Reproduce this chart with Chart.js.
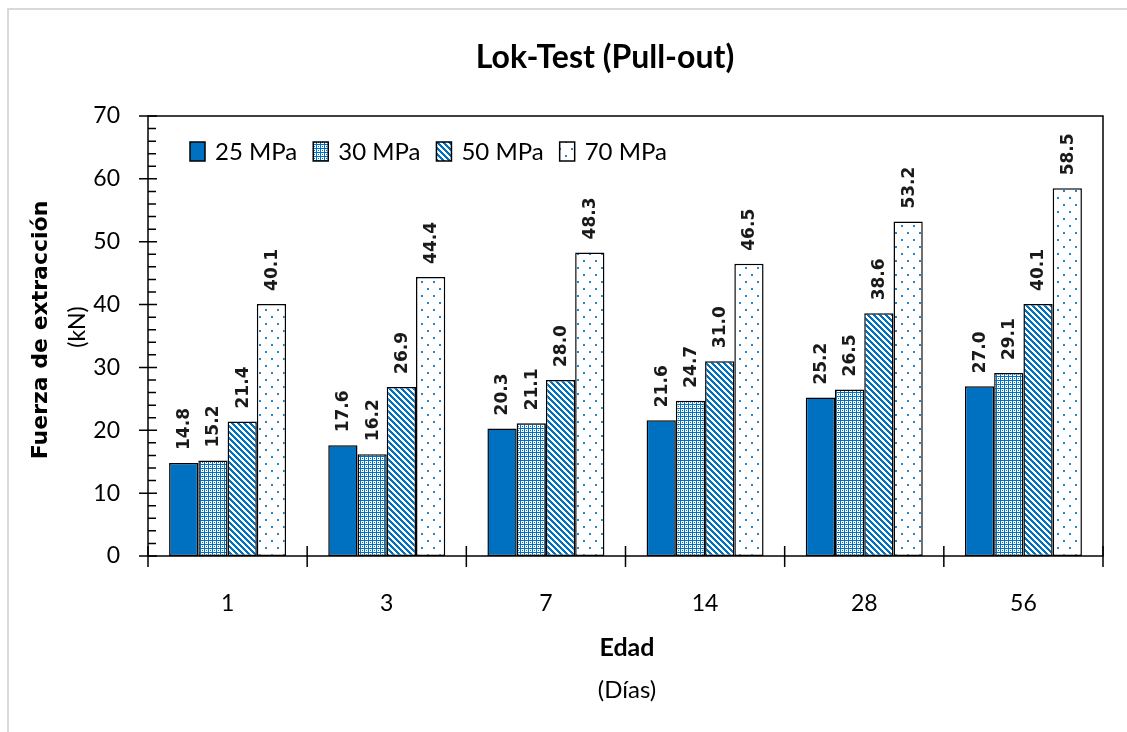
<!DOCTYPE html>
<html lang="es">
<head>
<meta charset="utf-8">
<title>Lok-Test (Pull-out)</title>
<script src="https://cdn.jsdelivr.net/npm/chart.js@4.4.1/dist/chart.umd.min.js"></script>
<style>
  html, body { margin: 0; padding: 0; background: #fff; overflow: hidden; }
  #frame {
    position: absolute; left: 7px; top: 8px; width: 1300px; height: 900px;
    border-left: 2px solid #d9d9d9; border-top: 2px solid #d9d9d9;
  }
  #wrap { position: absolute; left: 0; top: 0; width: 1127px; height: 732px; }
</style>
</head>
<body>
<div id="frame"></div>
<div id="wrap"><canvas id="myCanvas" width="1127" height="732"></canvas></div>
<script>
'use strict';

// data (edad en días, fuerza en kN)
const edades = ['1', '3', '7', '14', '28', '56'];
const seriesNames = ['25 MPa', '30 MPa', '50 MPa', '70 MPa'];
const mpa25 = [14.8, 17.6, 20.3, 21.6, 25.2, 27.0];
const mpa30 = [15.2, 16.2, 21.1, 24.7, 26.5, 29.1];
const mpa50 = [21.4, 26.9, 28.0, 31.0, 38.6, 40.1];
const mpa70 = [40.1, 44.4, 48.3, 46.5, 53.2, 58.5];
const yTicks = [0, 10, 20, 30, 40, 50, 60, 70];
const yMinorStep = 2;

const blue = '#0070c0';
const canvas = document.getElementById('myCanvas');
const ctx = canvas.getContext('2d');

// little tiles for the hatched fills
function makePattern(w, h, paint) {
  const tile = document.createElement('canvas');
  tile.width = w;
  tile.height = h;
  const t = tile.getContext('2d');
  t.fillStyle = '#fff';
  t.fillRect(0, 0, w, h);
  t.fillStyle = blue;
  paint(t);
  return ctx.createPattern(tile, 'repeat');
}

const fillSolid = blue;

const fillGrid = makePattern(4, 4, function (t) {
  for (let y = 0; y < 4; y++) {
    for (let x = 0; x < 4; x++) {
      if (x === 0 || y === 0 || (x === 2 && y === 2)) {
        t.fillRect(x, y, 1, 1);
      }
    }
  }
});

const fillStripes = makePattern(6, 6, function (t) {
  for (let y = 0; y < 6; y++) {
    for (let x = 0; x < 6; x++) {
      if ((((x - y) % 6) + 6) % 6 < 3) {
        t.fillRect(x, y, 1, 1);
      }
    }
  }
});

const fillDots = makePattern(12, 14, function (t) {
  t.globalAlpha = 0.85;
  t.fillRect(1, 1, 2, 2);
  t.fillRect(7, 8, 2, 2);
});

const fills = [fillSolid, fillGrid, fillStripes, fillDots];
const values = [mpa25, mpa30, mpa50, mpa70];

let datasets = [];
for (let i = 0; i < seriesNames.length; i++) {
  datasets.push({
    label: seriesNames[i],
    data: values[i],
    backgroundColor: fills[i],
    borderColor: '#000',
    borderWidth: 1.5,
    borderSkipped: false,
    categoryPercentage: 0.735,
    barPercentage: 1.0
  });
}

// axes, frame, value labels, legend and titles drawn by hand
const excelBits = {
  id: 'excelBits',
  afterDatasetsDraw(chart) {
    const c = chart.ctx;
    const area = chart.chartArea;
    const xScale = chart.scales.x;
    const yScale = chart.scales.y;

    c.save();
    c.strokeStyle = '#000';
    c.lineWidth = 1.5;
    c.strokeRect(area.left, area.top, area.right - area.left, area.bottom - area.top);

    // y ticks: majors cross the axis, minors only inside
    c.beginPath();
    for (let v = yTicks[0]; v <= yTicks[yTicks.length - 1]; v += yMinorStep) {
      const y = yScale.getPixelForValue(v);
      if (v % (yTicks[1] - yTicks[0]) === 0) {
        c.moveTo(area.left - 9, y);
        c.lineTo(area.left + 9, y);
      } else {
        c.moveTo(area.left, y);
        c.lineTo(area.left + 8, y);
      }
    }
    // x ticks between the groups
    for (let i = 0; i <= edades.length; i++) {
      const x = xScale.getPixelForValue(i - 0.5);
      c.moveTo(x, area.bottom - 10);
      c.lineTo(x, area.bottom + 11);
    }
    c.stroke();

    // value on top of each bar
    c.fillStyle = '#1a1a1a';
    c.font = 'bold 17px "DejaVu Sans"';
    c.textAlign = 'left';
    c.textBaseline = 'middle';
    chart.data.datasets.forEach(function (ds, i) {
      chart.getDatasetMeta(i).data.forEach(function (bar, j) {
        c.save();
        c.translate(bar.x + 1, bar.y - 13);
        c.rotate(-Math.PI / 2);
        c.fillText(ds.data[j].toFixed(1), 0, 0);
        c.restore();
      });
    });
    c.restore();
  },
  afterDraw(chart) {
    const c = chart.ctx;
    c.save();
    c.fillStyle = '#000';
    c.textBaseline = 'middle';

    // chart title
    c.textAlign = 'center';
    c.font = 'bold 32px Lato';
    c.fillText('Lok-Test (Pull-out)', 605, 58);

    // x axis title
    c.font = 'bold 25px Lato';
    c.fillText('Edad', 627, 648);
    c.font = '24px Lato';
    c.fillText('(Días)', 627, 690);

    // y axis title
    c.save();
    c.translate(41, 330);
    c.rotate(-Math.PI / 2);
    c.font = 'bold 22px "DejaVu Sans"';
    c.fillText('Fuerza de extracción', 0, 0);
    c.restore();
    c.save();
    c.translate(78, 327);
    c.rotate(-Math.PI / 2);
    c.font = '23px Lato';
    c.fillText('(kN)', 0, 0);
    c.restore();

    // legend inside the plot, top left
    let x = 190;
    const boxTop = 142;
    c.textAlign = 'left';
    c.font = '24px Lato';
    c.lineWidth = 1.5;
    c.strokeStyle = '#000';
    chart.data.datasets.forEach(function (ds) {
      c.fillStyle = ds.backgroundColor;
      c.fillRect(x, boxTop, 15, 19);
      c.strokeRect(x, boxTop, 15, 19);
      c.fillStyle = '#000';
      c.fillText(ds.label, x + 25, boxTop + 10);
      x += 25 + c.measureText(ds.label).width + 16;
    });
    c.restore();
  }
};

const config = {
  type: 'bar',
  data: {
    labels: edades,
    datasets: datasets
  },
  options: {
    responsive: false,
    animation: false,
    devicePixelRatio: 1,
    layout: {
      padding: { top: 116, right: 24, left: 0, bottom: 0 }
    },
    plugins: {
      legend: { display: false },
      title: { display: false },
      tooltip: { enabled: false }
    },
    scales: {
      x: {
        grid: { display: false, drawTicks: false },
        border: { display: false },
        ticks: {
          color: '#000',
          font: { family: 'Lato', size: 23 },
          padding: 34
        },
        afterFit(scale) {
          scale.height = 176;
        }
      },
      y: {
        min: yTicks[0],
        max: yTicks[yTicks.length - 1],
        grid: { display: false, drawTicks: false },
        border: { display: false },
        ticks: {
          stepSize: yTicks[1] - yTicks[0],
          color: '#000',
          font: { family: 'Lato', size: 23 },
          padding: 28
        },
        afterFit(scale) {
          scale.width = 148;
        }
      }
    }
  },
  plugins: [excelBits]
};

const myChart = new Chart(canvas, config);
</script>
</body>
</html>
